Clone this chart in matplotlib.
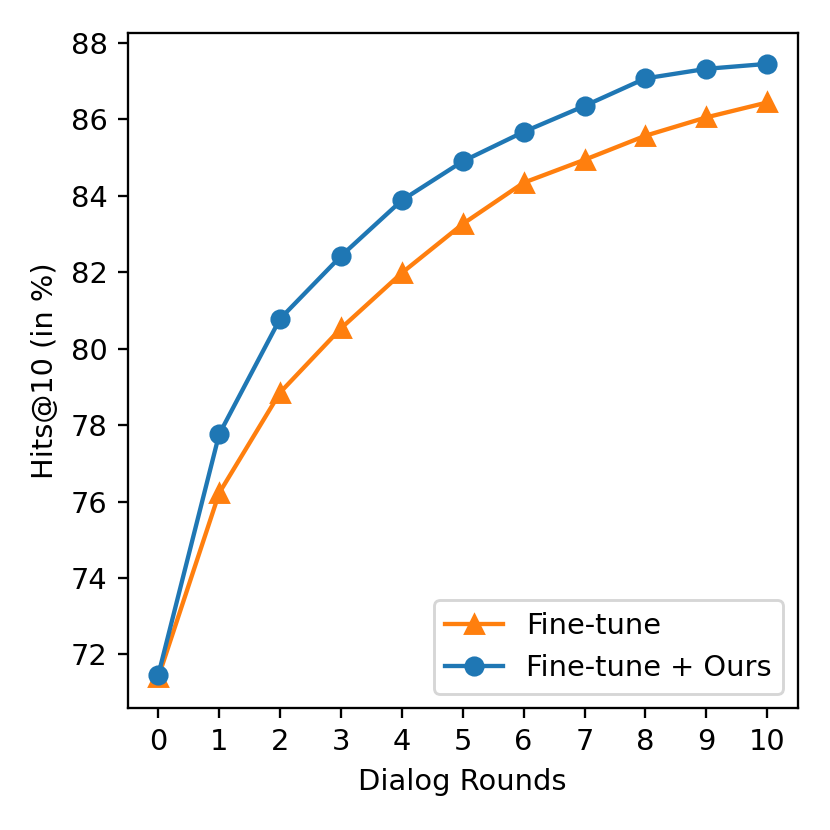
import matplotlib
matplotlib.use("Agg")
import matplotlib.pyplot as plt

rounds = list(range(11))
finetune = [71.40, 76.22, 78.85, 80.53, 81.98, 83.26, 84.34, 84.94, 85.57, 86.05, 86.44]
ours = [71.46, 77.76, 80.78, 82.42, 83.88, 84.90, 85.67, 86.35, 87.07, 87.32, 87.45]

fig = plt.figure(figsize=(4.0, 4.0), dpi=207.5)
ax = fig.add_axes([0.154, 0.147, 0.807, 0.813])
ax.plot(rounds, finetune, marker='^', color='#ff7f0e', label='Fine-tune')
ax.plot(rounds, ours, marker='o', color='#1f77b4', label='Fine-tune + Ours')
ax.set_xticks(rounds)
ax.set_xlabel('Dialog Rounds')
ax.set_ylabel('Hits@10 (in %)')
ax.legend(loc='lower right')
fig.savefig('out.png', dpi=207.5)
